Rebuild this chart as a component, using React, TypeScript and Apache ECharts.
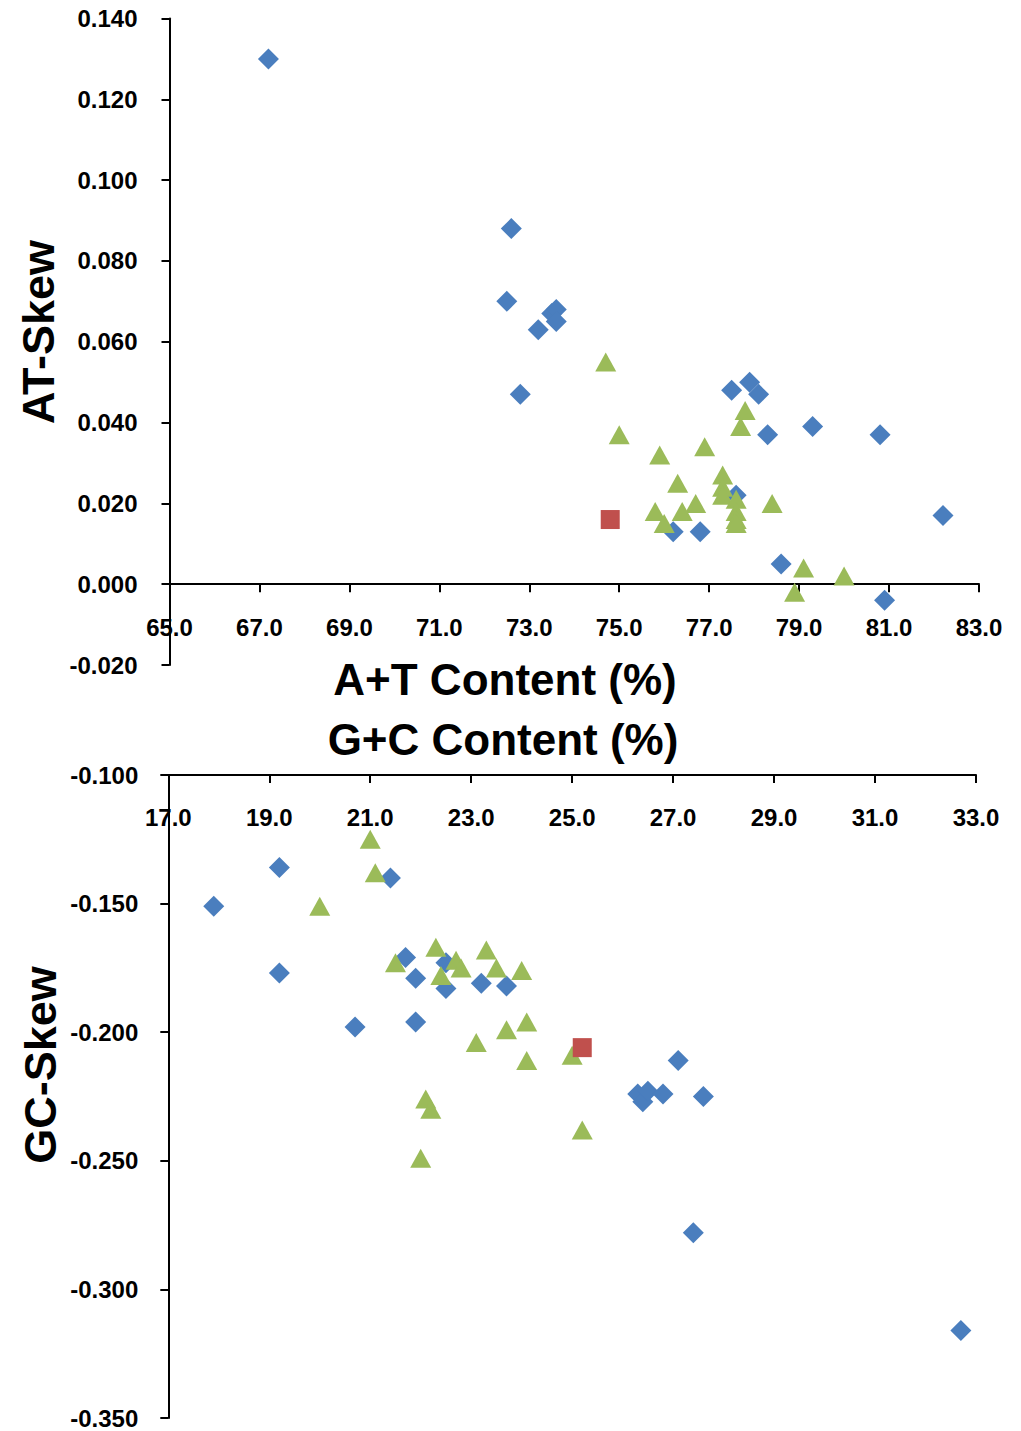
import React, { useEffect, useRef } from "react";
import * as echarts from "echarts";

// Top panel: A+T content (%) vs AT-skew
const atBlueX = [67.2, 72.6, 72.5, 73.5, 73.6, 73.6, 73.2, 72.8, 77.5, 77.9, 78.1, 78.3, 79.3, 80.8, 77.6, 76.2, 76.8, 82.2, 78.6, 80.9];
const atBlueY = [0.130, 0.088, 0.070, 0.067, 0.068, 0.065, 0.063, 0.047, 0.048, 0.050, 0.047, 0.037, 0.039, 0.037, 0.022, 0.013, 0.013, 0.017, 0.005, -0.004];
const atGreenX = [74.7, 77.8, 77.7, 75.0, 76.9, 75.9, 77.3, 77.3, 77.3, 76.3, 77.6, 77.6, 77.6, 77.6, 78.4, 76.7, 76.4, 75.8, 76.0, 79.1, 80.0, 78.9];
const atGreenY = [0.055, 0.043, 0.039, 0.037, 0.034, 0.032, 0.027, 0.024, 0.022, 0.025, 0.021, 0.018, 0.016, 0.015, 0.020, 0.020, 0.018, 0.018, 0.015, 0.004, 0.002, -0.002];
const atRedX = [74.8];
const atRedY = [0.016];

// Bottom panel: G+C content (%) vs GC-skew
const gcBlueX = [17.9, 19.2, 19.2, 21.4, 20.7, 21.7, 21.9, 21.9, 22.5, 22.5, 23.2, 23.7, 27.1, 26.3, 26.4, 26.5, 26.8, 27.6, 27.4, 32.7];
const gcBlueY = [-0.151, -0.136, -0.177, -0.140, -0.198, -0.171, -0.179, -0.196, -0.173, -0.183, -0.181, -0.182, -0.211, -0.224, -0.227, -0.223, -0.224, -0.225, -0.278, -0.316];
const gcGreenX = [21.0, 21.1, 20.0, 21.5, 22.3, 22.7, 22.8, 22.4, 23.3, 23.5, 24.0, 24.1, 23.7, 23.1, 24.1, 25.0, 25.2, 22.1, 22.2, 22.0];
const gcGreenY = [-0.125, -0.138, -0.151, -0.173, -0.167, -0.172, -0.175, -0.178, -0.168, -0.175, -0.176, -0.196, -0.199, -0.204, -0.211, -0.209, -0.238, -0.226, -0.230, -0.249];
const gcRedX = [25.2];
const gcRedY = [-0.206];

const atXTicks = { min: 65, max: 83, interval: 2 };
const atYTicks = { min: -0.02, max: 0.14, interval: 0.02 };
const gcXTicks = { min: 17, max: 33, interval: 2 };
const gcYTicks = { min: -0.35, max: -0.1, interval: 0.05 };

const titles = {
  atX: "A+T Content (%)",
  gcX: "G+C Content (%)",
  atY: "AT-Skew",
  gcY: "GC-Skew",
};

const BLUE = "#4A7EBE";
const GREEN = "#9BBB59";
const RED = "#C0504D";
const FONT = "'Liberation Sans', Arial, sans-serif";

const zip = (xs: number[], ys: number[]) => xs.map((x, i) => [x, ys[i]]);

export default function App() {
  const ref = useRef<HTMLDivElement>(null);
  useEffect(() => {
    document.body.style.margin = "0";
    if (!ref.current) return;
    const chart = echarts.init(ref.current, null, { renderer: "svg" });
    const axisLine = { show: true, lineStyle: { color: "#000", width: 2 } };
    const tickLbl = { color: "#000", fontSize: 24, fontWeight: "bold" as const, fontFamily: FONT };
    const axisTick = { show: true, length: 8, lineStyle: { color: "#000", width: 2 } };
    const mk = (name: string, xi: number, data: number[][], symbol: string, size: number | number[], color: string) => ({
      name,
      type: "scatter",
      xAxisIndex: xi,
      yAxisIndex: xi,
      data,
      symbol,
      symbolSize: size,
      itemStyle: { color, opacity: 1 },
      emphasis: { disabled: true },
    });
    const topGridTop = 18.5;
    const topGridH = 646.5;
    const zeroOffset = (topGridH * (0 - atYTicks.min)) / (atYTicks.max - atYTicks.min);
    chart.setOption({
      animation: false,
      backgroundColor: "#fff",
      grid: [
        { left: 169.5, top: topGridTop, right: 42, height: topGridH, containLabel: false },
        { left: 168.3, top: 775, right: 45, height: 643, containLabel: false },
      ],
      xAxis: [
        {
          gridIndex: 0,
          type: "value",
          position: "bottom",
          offset: -zeroOffset,
          ...atXTicks,
          axisLine: { ...axisLine, onZero: false },
          axisTick,
          splitLine: { show: false },
          axisLabel: { ...tickLbl, margin: 31, formatter: (v: number) => v.toFixed(1) },
        },
        {
          gridIndex: 1,
          type: "value",
          position: "top",
          ...gcXTicks,
          axisLine: { ...axisLine, onZero: false },
          axisTick: { ...axisTick, inside: true },
          splitLine: { show: false },
          axisLabel: { ...tickLbl, inside: true, margin: 30, formatter: (v: number) => v.toFixed(1) },
        },
      ],
      yAxis: [
        {
          gridIndex: 0,
          type: "value",
          ...atYTicks,
          axisLine: { ...axisLine, onZero: false },
          axisTick,
          splitLine: { show: false },
          axisLabel: { ...tickLbl, margin: 32, formatter: (v: number) => v.toFixed(3) },
        },
        {
          gridIndex: 1,
          type: "value",
          ...gcYTicks,
          axisLine: { ...axisLine, onZero: false },
          axisTick,
          splitLine: { show: false },
          axisLabel: { ...tickLbl, margin: 30, formatter: (v: number) => v.toFixed(3) },
        },
      ],
      series: [
        mk("AT blue", 0, zip(atBlueX, atBlueY), "diamond", 21, BLUE),
        mk("AT green", 0, zip(atGreenX, atGreenY), "triangle", [21, 19], GREEN),
        mk("AT red", 0, zip(atRedX, atRedY), "rect", 19, RED),
        mk("GC blue", 1, zip(gcBlueX, gcBlueY), "diamond", 21, BLUE),
        mk("GC green", 1, zip(gcGreenX, gcGreenY), "triangle", [21, 19], GREEN),
        mk("GC red", 1, zip(gcRedX, gcRedY), "rect", 19, RED),
      ],
      graphic: [
        {
          type: "text",
          x: 505,
          y: 679,
          style: { text: titles.atX, fontSize: 44, fontWeight: "bold", fontFamily: FONT, fill: "#000", textAlign: "center", textVerticalAlign: "middle" },
        },
        {
          type: "text",
          x: 503,
          y: 739,
          style: { text: titles.gcX, fontSize: 44, fontWeight: "bold", fontFamily: FONT, fill: "#000", textAlign: "center", textVerticalAlign: "middle" },
        },
        {
          type: "text",
          x: 38,
          y: 332,
          rotation: Math.PI / 2,
          style: { text: titles.atY, fontSize: 45, fontWeight: "bold", fontFamily: FONT, fill: "#000", textAlign: "center", textVerticalAlign: "middle" },
        },
        {
          type: "text",
          x: 40,
          y: 1065,
          rotation: Math.PI / 2,
          style: { text: titles.gcY, fontSize: 45, fontWeight: "bold", fontFamily: FONT, fill: "#000", textAlign: "center", textVerticalAlign: "middle" },
        },
      ],
    });
    return () => chart.dispose();
  }, []);
  return <div ref={ref} style={{ width: 1021, height: 1431 }} />;
}
